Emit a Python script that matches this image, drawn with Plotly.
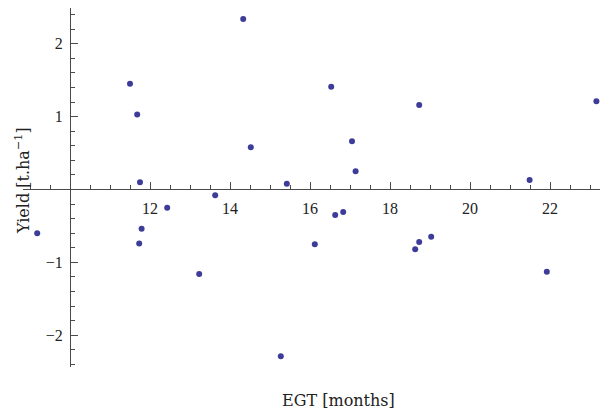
import plotly.graph_objects as go

# data
egt_months = [9.18, 11.50, 11.68, 11.75, 12.43, 11.79, 11.73, 13.23, 14.33, 14.52,
               13.63, 15.42, 15.27, 16.53, 17.05, 17.14, 18.73, 21.49, 23.16, 16.12,
               16.63, 16.83, 18.63, 18.73, 19.03, 21.92]
yield_dev = [-0.60, 1.45, 1.03, 0.10, -0.25, -0.54, -0.74, -1.16, 2.34, 0.58,
             -0.08, 0.08, -2.29, 1.41, 0.66, 0.25, 1.16, 0.13, 1.21, -0.75,
             -0.35, -0.31, -0.82, -0.72, -0.65, -1.13]

x_ticks = [12, 14, 16, 18, 20, 22]
y_ticks = [-2, -1, 1, 2]
x_title = "EGT [months]"
y_title = "Yield [t.ha<sup>\u22121</sup>]"

x_range = [8.825, 23.45]
y_range = [-2.436, 2.49]
x_cross = 10
y_cross = 0

axis_col = "#4a4a4a"
tick_font = dict(family="Liberation Serif", size=16, color="#222")
title_font = dict(family="DejaVu Serif", size=16, color="#222")

fig = go.Figure()
fig.add_trace(go.Scatter(
    x=egt_months, y=yield_dev, mode="markers",
    marker=dict(color="#3d3d99", size=6, line=dict(width=0)),
    showlegend=False, cliponaxis=False,
))

xpos = (x_cross - x_range[0]) / (x_range[1] - x_range[0])
ypos = (y_cross - y_range[0]) / (y_range[1] - y_range[0])

# the page adds an 8px body margin, so the figure is 600x406 placed at (8, 8)
fig.update_layout(
    width=600, height=406,
    margin=dict(l=15, r=0, t=0, b=47, pad=0),
    paper_bgcolor="white", plot_bgcolor="white",
    xaxis=dict(
        range=x_range, anchor="free", position=ypos,
        showgrid=False, zeroline=False,
        showline=True, linecolor=axis_col, linewidth=1,
        tickmode="array", tickvals=x_ticks, ticktext=[str(v) for v in x_ticks],
        ticks="inside", ticklen=7, tickwidth=1, tickcolor=axis_col,
        tickfont=tick_font, ticklabelstandoff=4,
        minor=dict(tickmode="linear", tick0=0, dtick=0.5, ticks="inside",
                   ticklen=4, tickwidth=1, tickcolor=axis_col, showgrid=False),
    ),
    yaxis=dict(
        range=y_range, anchor="free", position=xpos,
        showgrid=False, zeroline=False,
        showline=True, linecolor=axis_col, linewidth=1,
        tickmode="array", tickvals=y_ticks,
        ticktext=[("\u2212" + str(-v)) if v < 0 else str(v) for v in y_ticks],
        ticks="inside", ticklen=7, tickwidth=1, tickcolor=axis_col,
        tickfont=tick_font, ticklabelstandoff=4,
        minor=dict(tickmode="linear", tick0=0, dtick=0.2, ticks="inside",
                   ticklen=4, tickwidth=1, tickcolor=axis_col, showgrid=False),
    ),
    annotations=[
        dict(text=x_title, xref="paper", yref="paper", x=0.5385, y=-0.0947,
             xanchor="center", yanchor="middle", showarrow=False, font=title_font),
        dict(text=y_title, xref="paper", yref="paper", x=-0.0017, y=0.518,
             xanchor="center", yanchor="middle", showarrow=False, textangle=-90,
             font=title_font),
    ],
)

fig.write_html("out.html")
